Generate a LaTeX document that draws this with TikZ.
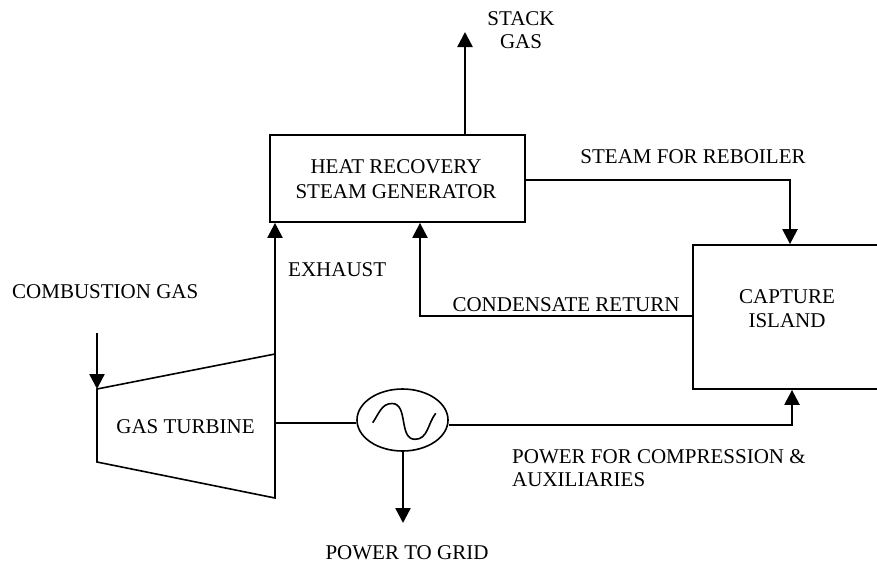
\documentclass[tikz,border=0pt]{standalone}
\usepackage{fontspec}
\setmainfont{Liberation Serif}
\usetikzlibrary{arrows.meta,shapes.geometric}
\begin{document}
\begin{tikzpicture}[x=1pt,y=-1pt,
  every node/.style={font=\fontsize{21}{24}\selectfont},
  lbl/.style={inner sep=0pt, align=center},
  box/.style={draw, line width=1.8pt, inner sep=0pt, align=center},
  flow/.style={line width=2.4pt, -{Triangle[width=15pt,length=15pt]}},
  thin/.style={line width=1.6pt}]
\useasboundingbox (0,0) rectangle (877,565);
\clip (0,0) rectangle (877,565);
% boxes
\node[box, minimum width=255pt, minimum height=87pt] (hrsg) at (397.5,178.5) {};
\node[lbl] at (396,167) {HEAT RECOVERY};
\node[lbl] at (396,192) {STEAM GENERATOR};
\node[box, minimum width=240pt, minimum height=144pt] (cap) at (813,317) {};
\node[lbl] (capt) at (787,308.5) {CAPTURE\\ISLAND};
% turbine
\coordinate (t1) at (97,389);
\coordinate (t2) at (275,354);
\coordinate (t3) at (275,498);
\coordinate (t4) at (97,462);
\draw[thin, line join=miter] (t1) -- (t2) -- (t3) -- (t4) -- cycle;
\node[lbl] (gt) at (185.5,427) {GAS TURBINE};
% generator
\node[draw, ellipse, thin, minimum width=91pt, minimum height=62pt, inner sep=0pt] (gen) at (402.5,420) {};
\draw[thin] (372.7,422.7) to[out=55,in=180] (392,403.5) to[out=0,in=180] (415,439.3) to[out=0,in=232] (435.7,413.3);
% coordinates
\coordinate (cg) at (97,333);
\coordinate (exb) at (275,375);
\coordinate (stk) at (465,32);
\coordinate (shaft) at (275,423);
\coordinate (grid) at (403,523);
% connectors
\draw[flow] (cg) -- (t1);
\draw[flow] (exb) -- (exb |- hrsg.south);
\draw[flow] (hrsg.north -| stk) -- (stk);
\draw[flow] (hrsg.east |- 0,180) -| (cap.north -| 790,0);
\draw[flow] (cap.west |- 0,316) -| (hrsg.south -| 420,0);
\draw[thin] (shaft) -- (gen.west |- shaft);
\draw[flow] (gen.east |- 0,425) -| (cap.south -| 792,0);
\draw[flow] (gen.south -| grid) -- (grid);
% labels
\node[lbl] at (521,19) {STACK};
\node[lbl] at (521,42) {GAS};
\node[lbl] at (693,157) {STEAM FOR REBOILER};
\node[lbl, anchor=west] at (288,270) {EXHAUST};
\node[lbl] at (566,305) {CONDENSATE RETURN};
\node[lbl, anchor=west] at (12,292) {COMBUSTION GAS};
\node[lbl, anchor=west] at (512,457) {POWER FOR COMPRESSION \&};
\node[lbl, anchor=west] at (512,480) {AUXILIARIES};
\node[lbl] at (407,553) {POWER TO GRID};
\end{tikzpicture}
\end{document}
